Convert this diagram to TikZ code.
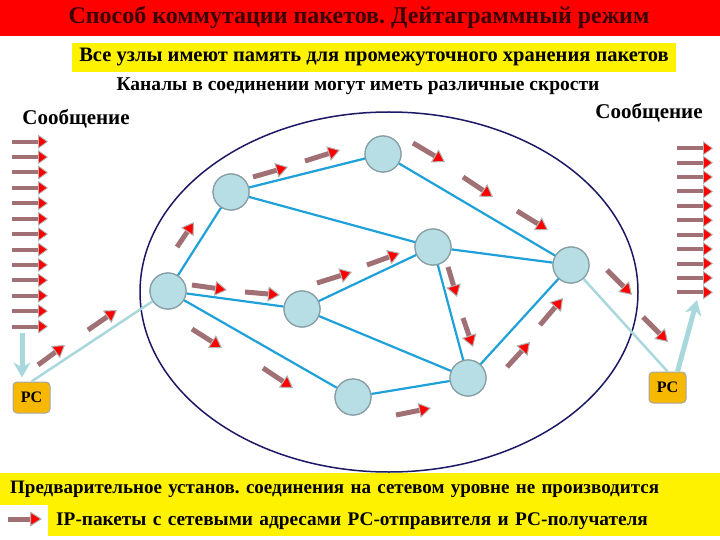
\documentclass[tikz,border=0pt]{standalone}
\usepackage{fontspec}
\setmainfont{Liberation Serif}
\frenchspacing
\usetikzlibrary{positioning,arrows.meta}
\definecolor{netblue}{RGB}{30,160,216}
\definecolor{nodefill}{RGB}{182,222,228}
\definecolor{nodeline}{RGB}{135,158,164}
\definecolor{pale}{RGB}{168,216,220}
\definecolor{shaft}{RGB}{160,112,116}
\definecolor{navy}{RGB}{28,24,100}
\definecolor{pcfill}{RGB}{246,184,0}
\definecolor{titlecol}{RGB}{60,0,0}
\tikzset{net node/.style={circle, fill=nodefill, draw=nodeline, line width=1.2pt, minimum size=36pt, inner sep=0pt}, }
\tikzset{pc node/.style={rectangle, rounded corners=4pt, fill=pcfill, draw=gray!70, line width=1pt, minimum width=37pt, minimum height=31pt, inner sep=0pt, font=\bfseries\fontsize{16}{16}\selectfont}, }
\tikzset{note/.style={fill=yellow, inner sep=0pt, font=\bfseries\fontsize{20.5}{20.5}\selectfont}, }
\tikzset{packet/.style={draw=shaft, line width=5pt, -{Triangle[length=12pt, width=15pt, color=gray!60, fill=red, line width=1pt]}}, }
\tikzset{msg/.style={draw=shaft, line width=4pt, -{Triangle[length=10pt, width=14pt, color=gray!60, fill=red, line width=0.8pt]}}, }
\tikzset{pale line/.style={draw=pale, line width=2.5pt}, }
\tikzset{big arrow/.style={draw=pale, line width=5pt, -{Stealth[length=15pt, width=17pt]}}, }

\begin{document}
\begin{tikzpicture}[x=1pt, y=-1pt]
	\useasboundingbox (0,0) rectangle (720,540);
	% header
	\fill[red] (0,0) rectangle (720,36);
	\node[font=\bfseries\fontsize{24}{24}\selectfont, text=titlecol] (title) at (359,18) {Способ коммутации пакетов. Дейтаграммный режим};
	\node[note, minimum width=604pt, minimum height=29pt] (mem) at (374,57.5) {Все узлы имеют память для промежуточного хранения пакетов};
	\node[font=\bfseries\fontsize{19.5}{19.5}\selectfont] (speeds) at (358,86) {Каналы в соединении могут иметь различные скрости};
	\node[font=\bfseries\fontsize{21}{21}\selectfont] (msg1) at (76,119) {Сообщение};
	\node[font=\bfseries\fontsize{21}{21}\selectfont] (msg2) at (649,113) {Сообщение};

	% network
	\draw[navy, line width=1.5pt] (389,292) ellipse [x radius=249, y radius=180];
	\node[net node] (1) at (168,291) {};
	\node[net node] (2) at (231,192) {};
	\node[net node] (3) at (383,154) {};
	\node[net node] (4) at (433,247) {};
	\node[net node] (5) at (302,309) {};
	\node[net node] (6) at (468,378) {};
	\node[net node] (7) at (353,397) {};
	\node[net node] (8) at (571,265) {};
	\path[draw=netblue, line width=2.2pt]
		(1) edge node {} (2)
		(1) edge node {} (5)
		(1) edge node {} (7)
		(2) edge node {} (3)
		(2) edge node {} (4)
		(3) edge node {} (8)
		(4) edge node {} (8)
		(5) edge node {} (4)
		(5) edge node {} (6)
		(4) edge node {} (6)
		(7) edge node {} (6)
		(6) edge node {} (8)
		;
	\foreach \n in {1,...,8} \node[net node] at (\n) {};

	% hosts
	\node[pc node] (pc1) at (31.5,397.5) {PC};
	\node[pc node] (pc2) at (667.5,387.5) {PC};
	\coordinate (in) at (22,333);
	\coordinate (out) at (697,300);
	\draw[pale line] (pc1.north) -- (1);
	\draw[pale line] (8) -- (pc2.north);
	\draw[big arrow] (in) -- ([xshift=-9.5pt, yshift=4pt]pc1.north);
	\draw[big arrow] ([xshift=10pt]pc2.north) -- (out);

	% messages
	\foreach \i in {0,...,12} \draw[msg] (12,141.7+15.4*\i) -- (48,141.7+15.4*\i);
	\foreach \i in {0,...,10} \draw[msg] (677,148.3+14.4*\i) -- (713,148.3+14.4*\i);

	% packets
	\draw[packet] (38,365) -- (65,345);
	\draw[packet] (88,330) -- (117,310);
	\draw[packet] (177,247) -- (194,222);
	\draw[packet] (192,285) -- (227,290);
	\draw[packet] (245,292) -- (280,295);
	\draw[packet] (317,283) -- (352,272);
	\draw[packet] (367,265) -- (400,253);
	\draw[packet] (253,177) -- (288,167);
	\draw[packet] (305,161) -- (340,150);
	\draw[packet] (413,143) -- (445,162);
	\draw[packet] (463,177) -- (493,197);
	\draw[packet] (517,211) -- (548,230);
	\draw[packet] (607,270) -- (632,295);
	\draw[packet] (643,317) -- (668,342);
	\draw[packet] (448,267) -- (457,297);
	\draw[packet] (463,318) -- (473,347);
	\draw[packet] (507,367) -- (530,342);
	\draw[packet] (540,325) -- (563,298);
	\draw[packet] (396,415) -- (431,408);
	\draw[packet] (192,329) -- (222,348);
	\draw[packet] (263,368) -- (293,388);

	% footer
	\node[note, anchor=north west, minimum height=32pt, text width=700pt, inner xsep=10pt, align=left, font=\bfseries\fontsize{19}{19}\selectfont] (cond) at (0,473) {Предварительное установ. соединения на сетевом уровне не производится};
	\node[note, anchor=north west, minimum height=31pt, text width=656pt, inner xsep=8pt, align=left, font=\bfseries\fontsize{19.3}{19.3}\selectfont] (legend) at (48,505) {IP-пакеты с сетевыми адресами РС-отправителя и РС-получателя};
	\draw[packet] (8,519) -- (42,519);
\end{tikzpicture}
\end{document}
